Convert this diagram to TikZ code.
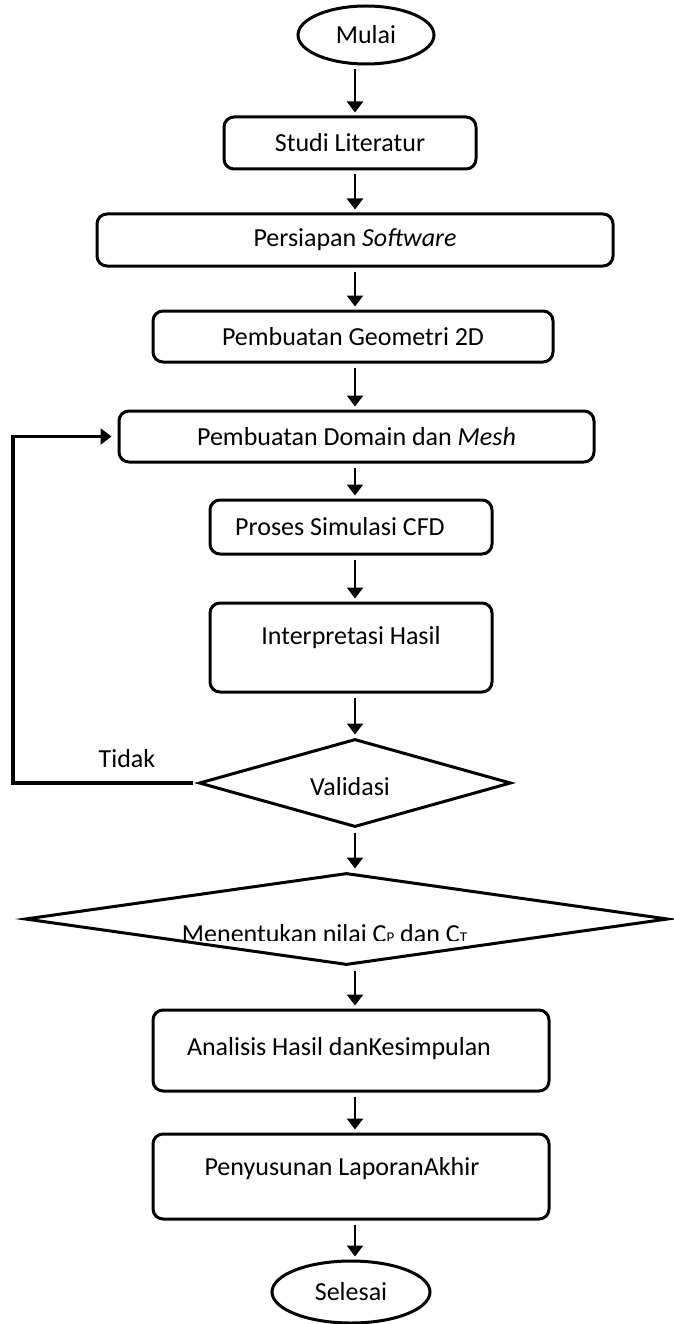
\documentclass[tikz,border=0pt]{standalone}
\usepackage{fontspec}
\setmainfont{Carlito}
\usetikzlibrary{shapes.geometric,arrows.meta,calc}

\tikzset{
  box/.style={draw,line width=3pt,rounded corners=10pt,inner sep=0pt},
  term/.style={draw,ellipse,line width=3pt,inner sep=0pt},
  dec/.style={draw,diamond,line width=3pt,inner sep=0pt},
  flow/.style={line width=2.4pt,-{Triangle[width=16pt,length=11pt]},shorten <=4pt,shorten >=3pt},
}

\begin{document}
\begin{tikzpicture}[x=1pt,y=-1pt,font=\fontsize{26}{31}\selectfont]
\useasboundingbox (0,0) rectangle (673,1324);
\coordinate (axis) at (355,0);
\coordinate (loop) at (13,0);

\node[term,minimum width=136pt,minimum height=58pt] (mulai) at (366,35) {Mulai};
\node[box,minimum width=252pt,minimum height=52pt] (studi) at (350,143) {Studi Literatur};
\node[box,minimum width=516pt,minimum height=52pt] (soft) at (355,240) {Persiapan \textit{Software}};
\node[box,minimum width=400pt,minimum height=51pt] (geom) at (353,336.5) {Pembuatan Geometri 2D};
\node[box,minimum width=475pt,minimum height=51pt] (domain) at (356.5,436.5) {Pembuatan Domain dan \textit{Mesh}};
\node[box,minimum width=282pt,minimum height=54pt,
  label={[xshift=-11pt]center:Proses Simulasi CFD}] (simul) at (351,527) {};
\node[box,minimum width=282pt,minimum height=89pt,
  label={[yshift=10pt]center:Interpretasi Hasil}] (interp) at (351,647.5) {};
\node[dec,minimum width=312pt,minimum height=88pt,
  label={[xshift=-5pt,yshift=-4pt]center:Validasi}] (valid) at (355,783) {};
\node[dec,minimum width=643pt,minimum height=92pt] (menen) at (346.5,919) {};
\begin{scope}
\clip ([yshift=40pt]menen.west) rectangle ([yshift=-21pt]menen.east);
\node (menen-t) at ([xshift=-22pt,yshift=-15pt]menen.center)
  {Menentukan nilai C{\fontsize{15}{15}\selectfont P} dan C{\fontsize{15}{15}\selectfont T}};
\end{scope}
\node[box,minimum width=396pt,minimum height=81pt,
  label={[xshift=-12pt,yshift=2pt]center:Analisis Hasil danKesimpulan}] (simpul) at (351,1050.5) {};
\node[box,minimum width=396pt,minimum height=85pt,
  label={[xshift=-9pt,yshift=8pt]center:Penyusunan LaporanAkhir}] (lapor) at (351,1176.5) {};
\node[term,minimum width=158pt,minimum height=62pt] (selesai) at (351,1292) {Selesai};
\node (tidak) at (127,759) {Tidak};

\draw[flow] (mulai.south -| axis) -- (studi.north -| axis);
\draw[flow] (studi.south -| axis) -- (soft.north -| axis);
\draw[flow] (soft.south -| axis) -- (geom.north -| axis);
\draw[flow] (geom.south -| axis) -- (domain.north -| axis);
\draw[flow] (domain.south -| axis) -- (simul.north -| axis);
\draw[flow] (simul.south -| axis) -- (interp.north -| axis);
\draw[flow] (interp.south -| axis) -- (valid.north -| axis);
\draw[flow] (valid.south -| axis) -- (menen.north -| axis);
\draw[flow] (menen.south -| axis) -- (simpul.north -| axis);
\draw[flow] (simpul.south -| axis) -- (lapor.north -| axis);
\draw[flow] (lapor.south -| axis) -- (selesai.north -| axis);
\draw[flow,line width=3.2pt,shorten <=5pt,shorten >=6pt] (valid.west) -- (valid.west -| loop) |- (domain.west);
\end{tikzpicture}
\end{document}
